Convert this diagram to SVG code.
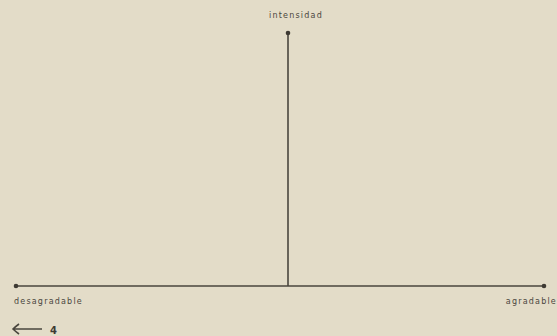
<svg xmlns="http://www.w3.org/2000/svg" width="557" height="336" viewBox="0 0 557 336">
<style>
.t{font-family:"DejaVu Sans","Liberation Sans",sans-serif;font-size:8px;fill:#4a463e;letter-spacing:1.2px}
.ln{stroke:#4a463e;stroke-width:1.6;fill:none}
.dot{fill:#3e3a33}
</style>
<rect width="557" height="336" fill="#e3dcc8"/>
<g id="connectors">
<line class="ln" x1="16" y1="286" x2="544" y2="286"/>
<line class="ln" x1="288" y1="33" x2="288" y2="286"/>
</g>
<g id="top"><circle class="dot" cx="288" cy="33" r="2.3"/><text class="t" x="296" y="18" text-anchor="middle">intensidad</text></g>
<g id="left"><circle class="dot" cx="16" cy="286" r="2.3"/><text class="t" x="14" y="304">desagradable</text></g>
<g id="right"><circle class="dot" cx="544" cy="286" r="2.3"/><text class="t" x="557" y="304" text-anchor="end">agradable</text></g>
<g id="nav">
<path d="M42 329 H14 M19 324 Q15 327 13 329 Q15 331 19 334" class="ln" stroke-width="1"/>
<text x="50" y="334" style="font-family:'DejaVu Sans',sans-serif;font-size:10px;font-weight:bold;fill:#3e3a33">4</text>
</g>
</svg>
